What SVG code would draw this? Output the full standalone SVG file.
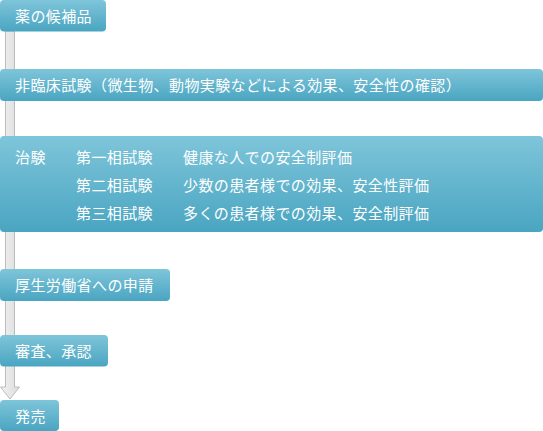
<svg xmlns="http://www.w3.org/2000/svg" width="543" height="431" viewBox="0 0 543 431">
<defs>
<linearGradient id="g" x1="0" y1="0" x2="0" y2="1">
<stop offset="0" stop-color="#7ec5da"/>
<stop offset="1" stop-color="#4aa5c1"/>
</linearGradient>
<linearGradient id="bar" x1="0" y1="0" x2="1" y2="0">
<stop offset="0" stop-color="#f2f2f2"/>
<stop offset="1" stop-color="#dcdcdc"/>
</linearGradient>
</defs>
<style>
.box{fill:url(#g);}
.t{font-family:"Noto Sans CJK JP","Noto Sans CJK SC",sans-serif;font-size:15px;fill:#ffffff;letter-spacing:0.4px;}
</style>
<g id="connectors">
<path d="M5.5,31 L14.5,31 L14.5,387 L19.5,387 L10,399 L0.5,387 L5.5,387 Z" fill="url(#bar)" stroke="#bcbcbc" stroke-width="1"/>
</g>
<g id="n1"><rect class="box" x="0" y="0" width="106" height="31.5" rx="4"/><text class="t" x="15" y="21.5">薬の候補品</text></g>
<g id="n2"><rect class="box" x="0" y="69" width="543" height="32" rx="4"/><text class="t" x="15" y="91">非臨床試験（微生物、動物実験などによる効果、安全性の確認）</text></g>
<g id="n3"><rect class="box" x="0" y="136" width="543" height="96" rx="4"/>
<text class="t" x="15" y="163">治験</text>
<text class="t" x="76" y="163">第一相試験</text>
<text class="t" x="183" y="163">健康な人での安全制評価</text>
<text class="t" x="76" y="191">第二相試験</text>
<text class="t" x="183" y="191">少数の患者様での効果、安全性評価</text>
<text class="t" x="76" y="219">第三相試験</text>
<text class="t" x="183" y="219">多くの患者様での効果、安全制評価</text>
</g>
<g id="n4"><rect class="box" x="0" y="269" width="170" height="32" rx="4"/><text class="t" x="15" y="291">厚生労働省への申請</text></g>
<g id="n5"><rect class="box" x="0" y="335" width="108" height="31.5" rx="4"/><text class="t" x="15" y="357">審査、承認</text></g>
<g id="n6"><rect class="box" x="0" y="400" width="59" height="31" rx="4"/><text class="t" x="15" y="422">発売</text></g>
</svg>
